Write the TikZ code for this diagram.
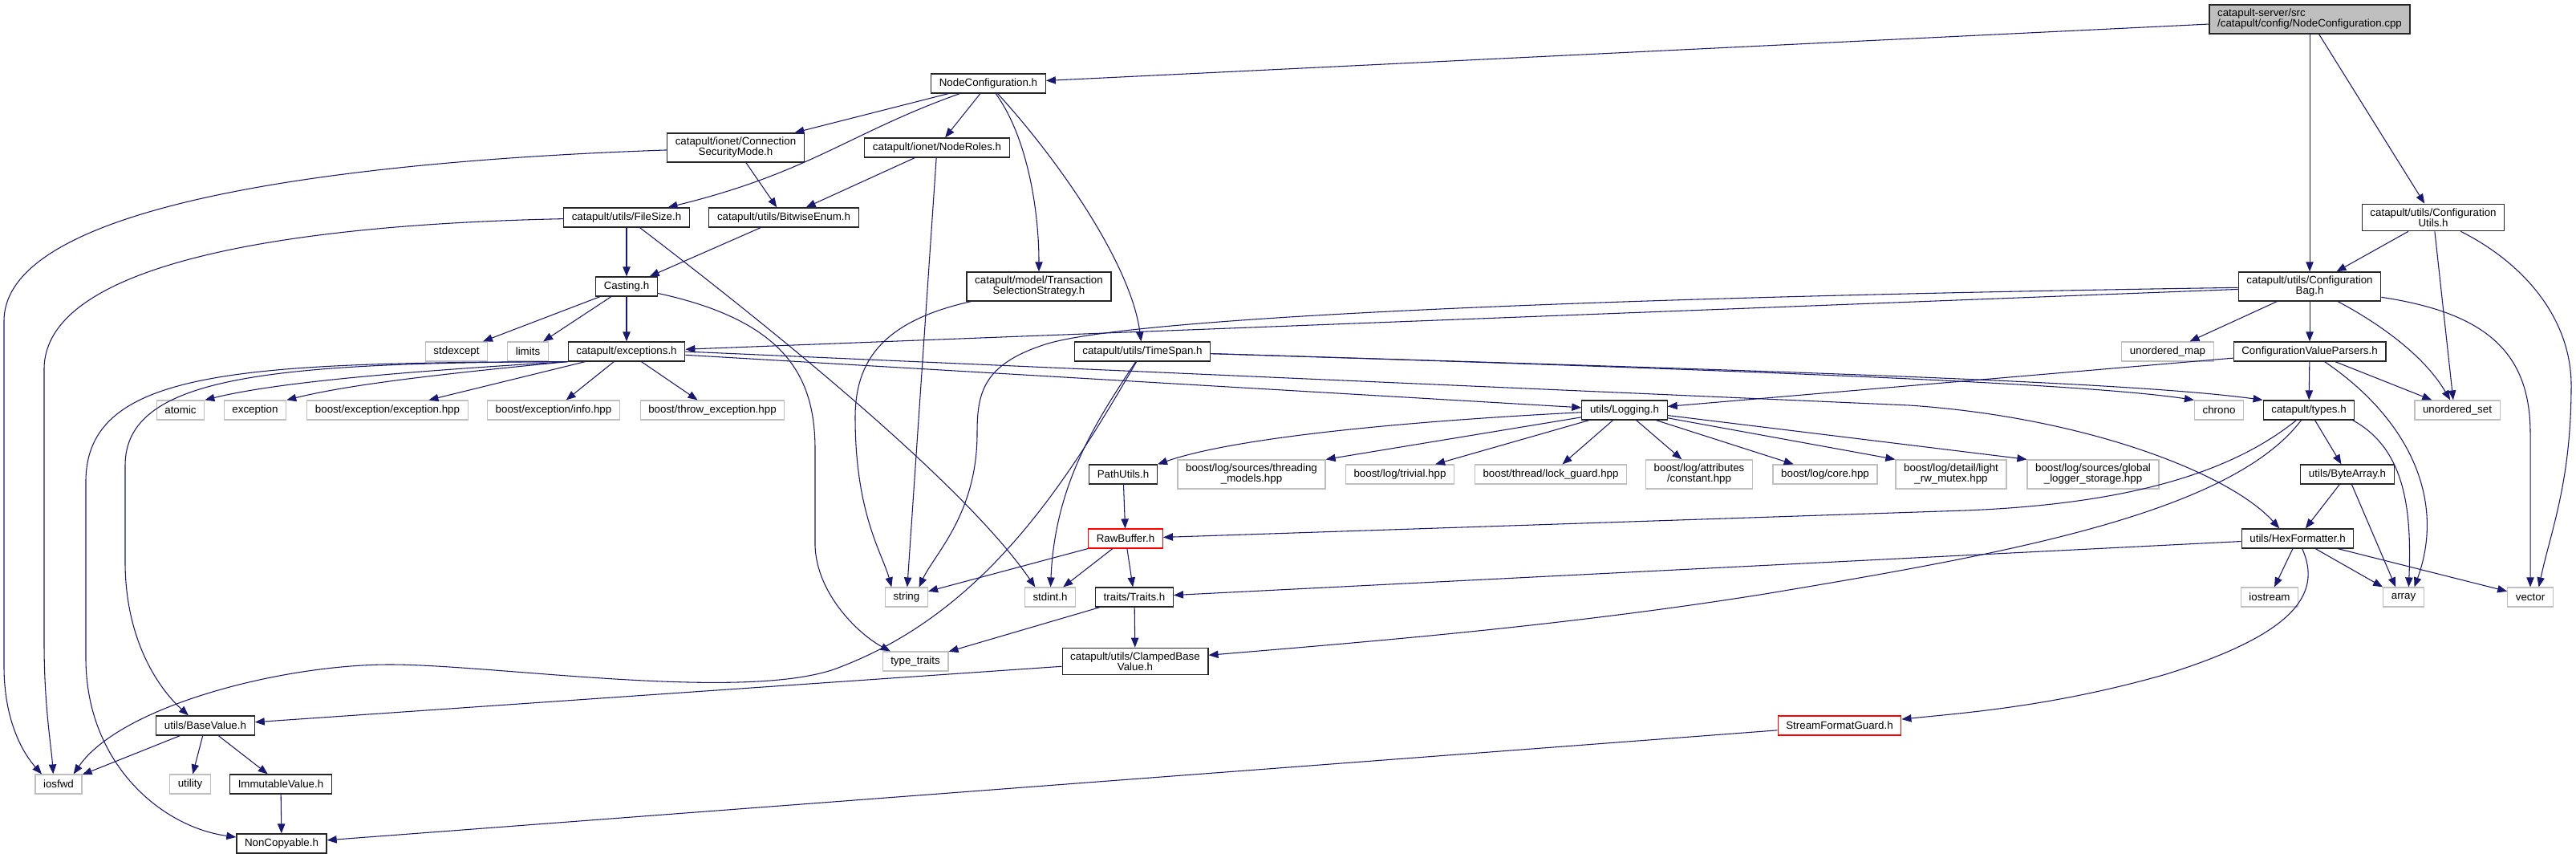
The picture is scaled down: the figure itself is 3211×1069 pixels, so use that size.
\documentclass[tikz,border=0pt]{standalone}
\usepackage{fontspec}
\setmainfont{Liberation Sans}
\usepackage{tikz}
\usetikzlibrary{arrows.meta}
\definecolor{edgeblue}{HTML}{191970}
\definecolor{extgray}{HTML}{BFBFBF}

\begin{document}
\begin{tikzpicture}[x=0.75pt,y=-0.75pt,
  every node/.style={font=\fontsize{10}{9.75}\selectfont},
  hdr/.style={draw=black!85,fill=white,line width=0.9pt,inner xsep=7.6pt,inner ysep=4pt,minimum height=18pt,align=center},
  sys/.style={hdr,draw=extgray},
  miss/.style={hdr,draw=red},
  src/.style={hdr,fill=extgray,align=left},
  dep/.style={draw=edgeblue,line width=0.8pt,-{Triangle[length=9pt,width=7pt]}}]
\path[fill=white] (0,0) rectangle (3211,1069);
% header nodes
\node[src] (cpp) at (2879,24) {catapult-server/src\\/catapult/config/NodeConfiguration.cpp};
\node[hdr] (nch) at (1232,104) {NodeConfiguration.h};
\node[hdr] (csm) at (917,184) {catapult/ionet/Connection\\SecurityMode.h};
\node[hdr] (roles) at (1168,184) {catapult/ionet/NodeRoles.h};
\node[hdr] (fsize) at (781,271) {catapult/utils/FileSize.h};
\node[hdr] (bitw) at (977,271) {catapult/utils/BitwiseEnum.h};
\node[hdr] (cutils) at (3033,271) {catapult/utils/Configuration\\Utils.h};
\node[hdr] (cast) at (781,357) {Casting.h};
\node[hdr] (tss) at (1295,357) {catapult/model/Transaction\\SelectionStrategy.h};
\node[hdr] (bag) at (2879,357) {catapult/utils/Configuration\\Bag.h};
\node[hdr] (exc) at (781,438) {catapult/exceptions.h};
\node[hdr] (tspan) at (1424,438) {catapult/utils/TimeSpan.h};
\node[hdr] (cvp) at (2879,438) {ConfigurationValueParsers.h};
\node[hdr] (logging) at (2025,511) {utils/Logging.h};
\node[hdr] (types) at (2878,511) {catapult/types.h};
\node[hdr] (pathu) at (1400,591) {PathUtils.h};
\node[hdr] (bytearr) at (2926,591) {utils/ByteArray.h};
\node[miss] (rawbuf) at (1403,671) {RawBuffer.h};
\node[hdr] (hexf) at (2864,671) {utils/HexFormatter.h};
\node[hdr] (traits) at (1414,744) {traits/Traits.h};
\node[hdr] (clamped) at (1415,824) {catapult/utils/ClampedBase\\Value.h};
\node[hdr] (basev) at (256,904) {utils/BaseValue.h};
\node[miss] (sfg) at (2293,904) {StreamFormatGuard.h};
\node[hdr] (immut) at (350,977) {ImmutableValue.h};
\node[hdr] (noncopy) at (351,1051) {NonCopyable.h};
% system headers
\node[sys] (stdexcept) at (569,438) {stdexcept};
\node[sys] (limits) at (658,438) {limits};
\node[sys] (umap) at (2702,438) {unordered\_map};
\node[sys] (atomic) at (225,511) {atomic};
\node[sys] (exception) at (318,511) {exception};
\node[sys] (bexc) at (483,511) {boost/exception/exception.hpp};
\node[sys] (binfo) at (690,511) {boost/exception/info.hpp};
\node[sys] (bthrow) at (888,511) {boost/throw\_exception.hpp};
\node[sys] (chrono) at (2766,511) {chrono};
\node[sys] (uset) at (3063,511) {unordered\_set};
\node[sys] (bthreading) at (1560,591) {boost/log/sources/threading\\\_models.hpp};
\node[sys] (btrivial) at (1745,591) {boost/log/trivial.hpp};
\node[sys] (block) at (1933,591) {boost/thread/lock\_guard.hpp};
\node[sys] (bconst) at (2118,591) {boost/log/attributes\\/constant.hpp};
\node[sys] (bcore) at (2275,591) {boost/log/core.hpp};
\node[sys] (bmutex) at (2432,591) {boost/log/detail/light\\\_rw\_mutex.hpp};
\node[sys] (bglobal) at (2609,591) {boost/log/sources/global\\\_logger\_storage.hpp};
\node[sys] (string) at (1130,744) {string};
\node[sys] (stdint) at (1309,744) {stdint.h};
\node[sys] (iostream) at (2829,744) {iostream};
\node[sys] (array) at (2996,744) {array};
\node[sys] (vector) at (3154,744) {vector};
\node[sys] (typetr) at (1141,824) {type\_traits};
\node[sys] (iosfwd) at (73,977) {iosfwd};
\node[sys] (utility) at (237,977) {utility};
% includes
\draw[dep] (cpp) -- (nch);
\draw[dep] (cpp) -- (bag);
\draw[dep] (cpp) -- (cutils);
\draw[dep] (nch) -- (csm);
\draw[dep] (nch) .. controls (1060,165) and (1010,215) .. (fsize);
\draw[dep] (nch) -- (roles);
\draw[dep] (nch) .. controls (1280,170) and (1295,260) .. (tss);
\draw[dep] (nch) .. controls (1320,200) and (1410,330) .. (tspan);
\draw[dep] (csm) -- (bitw);
\draw[dep] (csm) .. controls (450,200) and (5,250) .. (5,400) -- (5,830) .. controls (5,900) and (30,940) .. (iosfwd.149);
\draw[dep] (roles) -- (bitw);
\draw[dep] (roles) -- (string);
\draw[dep] (fsize) -- (cast);
\draw[dep] (fsize) .. controls (350,280) and (55,330) .. (55,460) -- (55,800) .. controls (55,880) and (64,930) .. (iosfwd.118);
\draw[dep] (fsize) .. controls (950,400) and (1200,600) .. (stdint.146);
\draw[dep] (bitw) -- (cast);
\draw[dep] (cast) -- (stdexcept);
\draw[dep] (cast) -- (limits);
\draw[dep] (cast) -- (exc);
\draw[dep] (cast) .. controls (980,400) and (1016,470) .. (1016,560) -- (1016,680) .. controls (1018,740) and (1070,790) .. (typetr.158);
\draw[dep] (tss) .. controls (1100,400) and (1066,450) .. (1066,520) .. controls (1066,640) and (1100,690) .. (string.146);
\draw[dep] (bag) -- (exc);
\draw[dep] (bag) .. controls (2000,370) and (1400,395) .. (1300,430) .. controls (1225,455) and (1218,490) .. (1218,540) .. controls (1218,640) and (1165,690) .. (string.39);
\draw[dep] (bag) -- (umap);
\draw[dep] (bag) -- (cvp);
\draw[dep] (bag) .. controls (2960,400) and (3020,440) .. (uset.125);
\draw[dep] (bag) .. controls (3100,390) and (3154,440) .. (3154,540) -- (vector);
\draw[dep] (cutils) -- (bag);
\draw[dep] (cutils) -- (uset.112);
\draw[dep] (cutils) .. controls (3150,330) and (3205,400) .. (3205,480) .. controls (3205,600) and (3180,660) .. (vector.50);
\draw[dep] (exc.south west) .. controls (520,462) and (350,475) .. (atomic.north east);
\draw[dep] (exc.south west) .. controls (560,465) and (440,478) .. (exception.north east);
\draw[dep] (exc) -- (bexc);
\draw[dep] (exc) -- (binfo);
\draw[dep] (exc) -- (bthrow);
\draw[dep] (exc.south west) .. controls (300,452) and (107,460) .. (107,600) -- (107,820) .. controls (107,950) and (200,1030) .. (noncopy.172);
\draw[dep] (exc.south west) .. controls (330,452) and (156,470) .. (156,580) -- (156,700) .. controls (156,800) and (200,860) .. (basev.149);
\draw[dep] (exc) -- (logging);
\draw[dep] (exc.east) -- (2380,505) .. controls (2600,520) and (2780,590) .. (hexf.151);
\draw[dep] (tspan) .. controls (2200,462) and (2600,478) .. (chrono.north west);
\draw[dep] (tspan) .. controls (2200,462) and (2650,475) .. (types.north west);
\draw[dep] (tspan) .. controls (1370,520) and (1315,600) .. (stdint);
\draw[dep] (tspan) .. controls (1330,600) and (1230,760) .. (1050,830) .. controls (940,877) and (620,828) .. (486,828) .. controls (350,828) and (150,880) .. (iosfwd.34);
\draw[dep] (logging) .. controls (1750,525) and (1540,545) .. (pathu.north east);
\draw[dep] (logging) -- (bthreading.north east);
\draw[dep] (logging) -- (btrivial);
\draw[dep] (logging) -- (block);
\draw[dep] (logging) -- (bconst);
\draw[dep] (logging) -- (bcore);
\draw[dep] (logging) -- (bmutex.north west);
\draw[dep] (logging) -- (bglobal.north west);
\draw[dep] (pathu) -- (rawbuf);
\draw[dep] (rawbuf) -- (string);
\draw[dep] (rawbuf) -- (stdint);
\draw[dep] (rawbuf) -- (traits);
\draw[dep] (types) .. controls (2780,590) and (2650,628) .. (2450,636) -- (rawbuf);
\draw[dep] (types) .. controls (2780,640) and (2500,690) .. (2200,740) .. controls (1950,780) and (1700,800) .. (clamped);
\draw[dep] (types) -- (bytearr);
\draw[dep] (types.-13) .. controls (3000,560) and (3006,640) .. (array.63);
\draw[dep] (cvp) -- (types);
\draw[dep] (cvp) -- (uset);
\draw[dep] (cvp) -- (logging);
\draw[dep] (cvp) .. controls (3000,520) and (3050,620) .. (array.43);
\draw[dep] (bytearr) -- (hexf);
\draw[dep] (bytearr) -- (array.128);
\draw[dep] (hexf) -- (traits);
\draw[dep] (hexf) -- (iostream);
\draw[dep] (hexf) -- (array.north west);
\draw[dep] (hexf) -- (vector);
\draw[dep] (hexf) .. controls (2895,740) and (2860,790) .. (2700,840) .. controls (2560,880) and (2450,888) .. (sfg);
\draw[dep] (sfg) -- (noncopy);
\draw[dep] (traits) -- (typetr);
\draw[dep] (traits) -- (clamped);
\draw[dep] (clamped) -- (basev);
\draw[dep] (basev) -- (iosfwd);
\draw[dep] (basev) -- (utility);
\draw[dep] (basev) -- (immut);
\draw[dep] (immut) -- (noncopy);
\end{tikzpicture}
\end{document}
